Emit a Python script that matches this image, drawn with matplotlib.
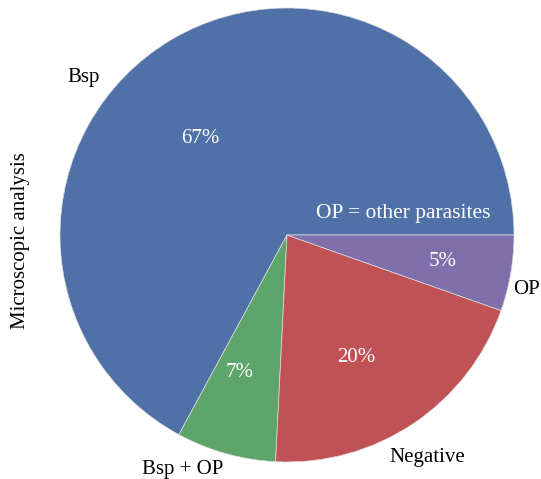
import matplotlib.pyplot as plt

plt.rcParams['font.family'] = ['Liberation Serif', 'DejaVu Serif']

labels = ['Bsp', 'Bsp + OP', 'Negative', 'OP']
values = [67.1, 7.1, 20.4, 5.4]
colors = ['#5070a8', '#5ea56c', '#c05256', '#7f70ac']

# where the text sits (pie radius = 1)
label_pos = [(-0.896, 0.692), (-0.458, -1.035), (0.617, -0.980), (1.057, -0.242)]
pct_pos = [(-0.383, 0.423), (-0.207, -0.604), (0.303, -0.541), (0.686, -0.118)]

fig = plt.figure(figsize=(5.41, 4.79), dpi=100)
ax = fig.add_axes([0.1109, 0.0355, 0.8392, 0.9478])

wedges, texts, autotexts = ax.pie(values, labels=labels, colors=colors, startangle=0,
                                  autopct='%1.0f%%', pctdistance=0.63, labeldistance=1.13,
                                  wedgeprops=dict(edgecolor='#dddddd', linewidth=0.5),
                                  textprops=dict(fontsize=15))
for t, p in zip(texts, label_pos):
    t.set_position(p)
    t.set_ha('center')
    t.set_va('center')
for t, p in zip(autotexts, pct_pos):
    t.set_position(p)
    t.set_color('white')

ax.text(0.51, 0.093, 'OP = other parasites', color='white', fontsize=15.5,
        ha='center', va='center')

ax.set_xlim(-1, 1)
ax.set_ylim(-1, 1)
fig.text(0.037, 0.497, 'Microscopic analysis', rotation=90, fontsize=15,
         ha='center', va='center')

plt.savefig('out.png', dpi=100)
